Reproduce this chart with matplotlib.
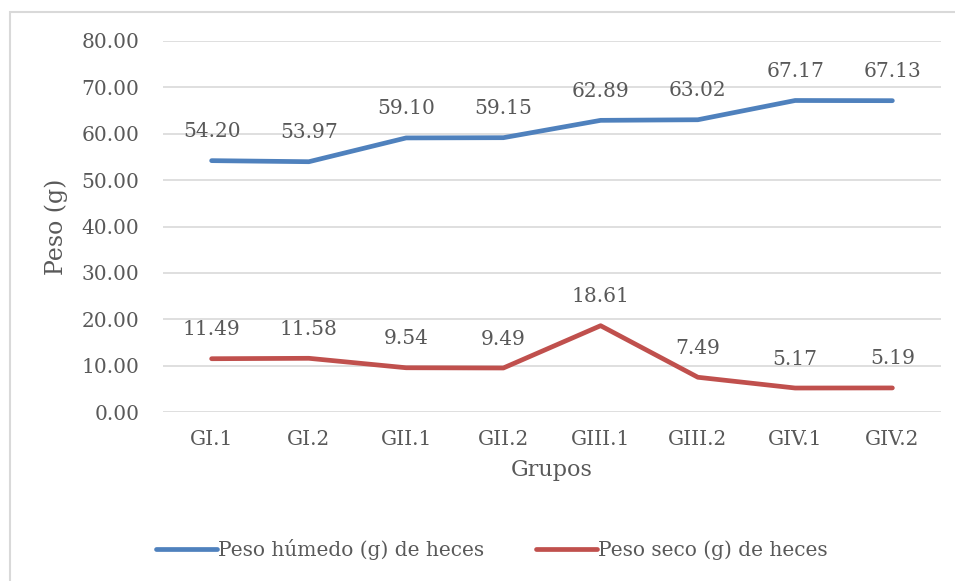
import matplotlib
matplotlib.use("Agg")
import matplotlib.pyplot as plt
from matplotlib.patches import Rectangle

plt.rcParams['font.family'] = ['DejaVu Serif']

categories = ["GI.1", "GI.2", "GII.1", "GII.2", "GIII.1", "GIII.2", "GIV.1", "GIV.2"]
humedo = [54.20, 53.97, 59.10, 59.15, 62.89, 63.02, 67.17, 67.13]
seco = [11.49, 11.58, 9.54, 9.49, 18.61, 7.49, 5.17, 5.19]
yticks = [0, 10, 20, 30, 40, 50, 60, 70, 80]
series_names = ["Peso húmedo (g) de heces", "Peso seco (g) de heces"]
colors = ["#4F81BD", "#C0504D"]
text_color = "#595959"

W, H = 955, 581
fig = plt.figure(figsize=(W / 100, H / 100), dpi=100)
ax = fig.add_axes([163 / W, 1 - 412 / H, (941 - 163) / W, (412 - 41) / H])

x = list(range(len(categories)))
for vals, c, name in zip([humedo, seco], colors, series_names):
    ax.plot(x, vals, color=c, lw=3.4, solid_capstyle='round', label=name)
    for xi, v in zip(x, vals):
        ax.annotate(f"{v:.2f}", (xi, v), xytext=(0, 14), textcoords='offset points',
                    ha='center', va='bottom', fontsize=14.5, color=text_color)

ax.set_xlim(-0.5, len(categories) - 0.5)
ax.set_ylim(0, 80)
ax.set_yticks(yticks)
ax.set_yticklabels([f"{v:.2f}" for v in yticks], fontsize=14.5, color=text_color)
ax.set_xticks(x)
ax.set_xticklabels(categories, fontsize=14.5, color=text_color)
ax.tick_params(length=0, pad=13)
ax.tick_params(axis='y', pad=17)
ax.grid(axis='y', color='#D9D9D9', lw=1.2)
ax.set_axisbelow(True)
for s in ax.spines.values():
    s.set_visible(False)

ax.set_ylabel("Peso (g)", fontsize=17, color=text_color, labelpad=10)
ax.set_xlabel("Grupos", fontsize=16, color=text_color, labelpad=7)

leg = fig.legend(loc='center', bbox_to_anchor=(0.515, 1 - 550 / H), ncol=2, frameon=False,
                 fontsize=14.5, handlelength=3.0, handletextpad=0.05, columnspacing=2.6)
for t in leg.get_texts():
    t.set_color(text_color)

fig.patches.append(Rectangle((10 / W, -0.1), 1.2, 1 - 12 / H + 0.1, transform=fig.transFigure,
                             fill=False, edgecolor='#D9D9D9', lw=1.5))

fig.savefig("out.png", dpi=100, facecolor='white')
